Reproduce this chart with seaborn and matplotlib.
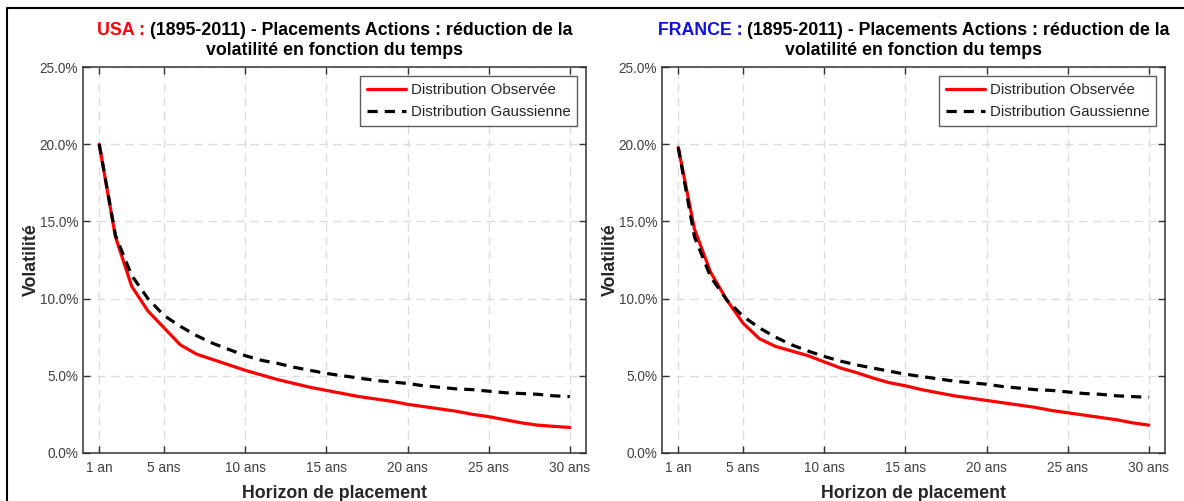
import pandas as pd
import matplotlib.pyplot as plt
import matplotlib.ticker as mticker
from matplotlib.lines import Line2D
import seaborn as sns

horizon = list(range(1, 31))
tick_pos = [1, 5, 10, 15, 20, 25, 30]
tick_labels = ["1 an", "5 ans", "10 ans", "15 ans", "20 ans", "25 ans", "30 ans"]

usa_obs = [20.0, 14.0, 10.8, 9.2, 8.1, 7.0, 6.4, 6.05, 5.7, 5.35,
           5.05, 4.75, 4.5, 4.25, 4.05, 3.85, 3.65, 3.5, 3.35, 3.15,
           3.0, 2.85, 2.7, 2.5, 2.35, 2.15, 1.95, 1.8, 1.72, 1.65]
usa_gauss = [20.0, 14.1, 11.5, 10.0, 8.9, 8.2, 7.6, 7.1, 6.7, 6.3,
             6.0, 5.8, 5.55, 5.35, 5.15, 5.0, 4.85, 4.7, 4.6, 4.5,
             4.35, 4.25, 4.15, 4.1, 4.0, 3.9, 3.85, 3.8, 3.7, 3.65]
fr_obs = [19.8, 14.5, 11.7, 9.9, 8.4, 7.4, 6.9, 6.6, 6.3, 5.9,
          5.5, 5.2, 4.85, 4.55, 4.35, 4.1, 3.9, 3.7, 3.55, 3.4,
          3.25, 3.1, 2.95, 2.75, 2.6, 2.45, 2.3, 2.15, 1.95, 1.8]
fr_gauss = [19.8, 14.0, 11.4, 9.9, 8.85, 8.1, 7.5, 7.0, 6.6, 6.25,
            5.95, 5.7, 5.5, 5.3, 5.1, 4.95, 4.8, 4.65, 4.55, 4.45,
            4.3, 4.2, 4.1, 4.05, 3.95, 3.85, 3.8, 3.7, 3.65, 3.6]

countries = [("USA : ", "red", usa_obs, usa_gauss),
             ("FRANCE : ", "#1010e0", fr_obs, fr_gauss)]
title_rest = "(1895-2011) - Placements Actions : réduction de la"
title_line2 = "volatilité en fonction du temps"

sns.set_theme(style="white")
plt.rcParams['font.family'] = ['Liberation Sans', 'DejaVu Sans']

fig, axes = plt.subplots(1, 2, figsize=(11.84, 5.01), dpi=100)
fig.subplots_adjust(left=0.0701, right=0.984, bottom=0.096, top=0.866, wspace=0.151)

titles = []
for ax, (name, col, obs, gauss) in zip(axes, countries):
    df = pd.DataFrame({"h": horizon, "obs": obs, "gauss": gauss})
    sns.lineplot(data=df, x="h", y="obs", ax=ax, color="red", lw=2.3,
                 label="Distribution Observée")
    sns.lineplot(data=df, x="h", y="gauss", ax=ax, color="black", lw=2.3,
                 linestyle=(0, (3.2, 2.2)), label="Distribution Gaussienne")
    ax.set_xlim(0, 31)
    ax.set_ylim(0, 25)
    ax.set_xticks(tick_pos)
    ax.set_xticklabels(tick_labels)
    ax.set_yticks([0, 5, 10, 15, 20, 25])
    ax.yaxis.set_major_formatter(mticker.FuncFormatter(lambda v, p: f"{v:.1f}%"))
    ax.grid(True, color="#dcdcdc", linestyle=(0, (6, 4)), lw=1)
    ax.tick_params(direction="in", length=5, width=1, top=True, right=True,
                   labelsize=9.8, labelcolor="#404040", color="#333333",
                   bottom=True, left=True)
    ax.tick_params(axis="x", pad=6)
    for s in ax.spines.values():
        s.set_color("#333333")
        s.set_linewidth(1.1)
    ax.set_xlabel("Horizon de placement", fontsize=12.8, fontweight="bold", color="#262626", labelpad=7)
    ax.set_ylabel("Volatilité", fontsize=12.8, fontweight="bold", color="#262626", labelpad=0)
    leg = ax.legend(loc="upper right", fontsize=10.8, frameon=True, fancybox=False,
                    edgecolor="#333333", handlelength=2.6, handletextpad=0.3,
                    borderpad=0.45, labelspacing=0.55, borderaxespad=0.6)
    leg.get_frame().set_linewidth(1)
    t_red = ax.text(0.5, 1.0, name, transform=ax.transAxes, color=col,
                    fontsize=12.8, fontweight="bold", ha="left", va="bottom")
    t_blk = ax.annotate(title_rest, xy=(1, 0), xycoords=t_red, color="black",
                        fontsize=12.8, fontweight="bold", ha="left", va="bottom")
    ax.text(0.5, 1.02, title_line2, transform=ax.transAxes, color="black",
            fontsize=12.8, fontweight="bold", ha="center", va="bottom")
    titles.append((ax, t_red, t_blk))

# center the two-colour first title line
fig.canvas.draw()
r = fig.canvas.get_renderer()
for ax, t_red, t_blk in titles:
    w = t_red.get_window_extent(r).width + t_blk.get_window_extent(r).width
    ax_bb = ax.get_window_extent(r)
    x0 = (ax_bb.width / 2 - w / 2) / ax_bb.width
    t_red.set_position((x0, 1.073))

# outer frame
fig.add_artist(Line2D([7 / 1184, 7 / 1184, 1.0], [0.0, 1 - 8 / 501, 1 - 8 / 501],
                      transform=fig.transFigure, color="black", lw=1.5))

fig.savefig("out.png", dpi=100)
